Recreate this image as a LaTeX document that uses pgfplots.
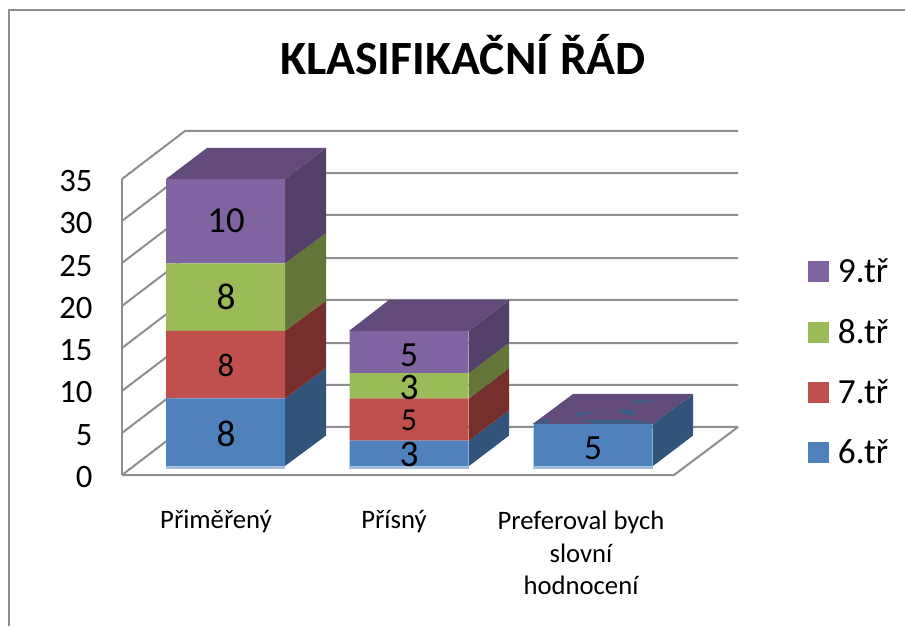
\documentclass[border=0pt]{standalone}
\usepackage{pgfplots}
\usepackage{pgfplotstable}
\pgfplotsset{compat=1.18}
\usepackage{fontspec}
\setmainfont{Carlito}
\definecolor{gridc}{HTML}{8E8E8E}
\definecolor{bluef}{HTML}{4F81BD}
\definecolor{redf}{HTML}{C0504D}
\definecolor{greenf}{HTML}{9BBB59}
\definecolor{purplef}{HTML}{8064A2}
\definecolor{blues}{HTML}{33547A}
\definecolor{reds}{HTML}{772F2E}
\definecolor{greens}{HTML}{637537}
\definecolor{purples}{HTML}{524068}
\definecolor{purplet}{HTML}{624B7A}
\definecolor{bluet}{HTML}{335E87}
\definecolor{strip}{HTML}{A9BEDC}
\pgfplotstableread{
x t6 t7 t8 t9
225.5 8 8 8 10
409 3 5 3 5
593 5 0 0 0
}\stackdata
\newcommand{\fs}[1]{\fontsize{#1}{#1}\selectfont}
\pgfplotsset{
  canvas/.style={at={(0,0)},anchor=south west,width=678.75pt,height=469.5pt,scale only axis,
    xmin=0,xmax=905,ymin=-18.96,ymax=55.21,hide axis,clip=false},
  gl/.style={draw=gridc,line width=1.5pt,line join=miter,forget plot},
  poly/.style={fill=#1,draw=none,forget plot},
}
\begin{document}
\begin{tikzpicture}
\useasboundingbox (0,0) rectangle (678.75pt,469.5pt);
% walls, gridlines, bar sides and tops
\begin{axis}[canvas]
\addplot[gl] coordinates {(9,-18.96) (9,54.03) (905,54.03)};
\addplot[gl] coordinates {(122,-1.07) (185,4.62) (738,4.62)};
\addplot[gl] coordinates {(122,3.91) (185,9.60) (738,9.60)};
\addplot[gl] coordinates {(122,8.89) (185,14.57) (738,14.57)};
\addplot[gl] coordinates {(122,13.98) (185,19.67) (738,19.67)};
\addplot[gl] coordinates {(122,18.96) (185,24.64) (738,24.64)};
\addplot[gl] coordinates {(122,24.05) (185,29.74) (738,29.74)};
\addplot[gl] coordinates {(122,29.03) (185,34.70) (738,34.70)};
\addplot[gl] coordinates {(122,34.00) (185,39.69) (738,39.69)};
\addplot[gl] coordinates {(122,-1.07) (674,-1.07) (738,4.62)};
% bar 1
\addplot[poly=strip] coordinates {(166,0) (285,0) (285,-0.3) (166,-0.3)} --cycle;
\addplot[poly=blues] coordinates {(285,0) (326,3.6) (326,11.6) (285,8)} --cycle;
\addplot[poly=reds] coordinates {(285,8) (326,11.6) (326,19.6) (285,16)} --cycle;
\addplot[poly=greens] coordinates {(285,16) (326,19.6) (326,27.6) (285,24)} --cycle;
\addplot[poly=purples] coordinates {(285,24) (326,27.6) (326,37.68) (285,34)} --cycle;
\addplot[poly=purplet] coordinates {(166,34) (285,34) (326,37.68) (207,37.68)} --cycle;
% bar 2
\addplot[poly=strip] coordinates {(349,0) (469,0) (469,-0.3) (349,-0.3)} --cycle;
\addplot[poly=blues] coordinates {(469,0) (509,3.6) (509,6.6) (469,3)} --cycle;
\addplot[poly=reds] coordinates {(469,3) (509,6.6) (509,11.6) (469,8)} --cycle;
\addplot[poly=greens] coordinates {(469,8) (509,11.6) (509,14.6) (469,11)} --cycle;
\addplot[poly=purples] coordinates {(469,11) (509,14.6) (509,19.67) (469,16)} --cycle;
\addplot[poly=purplet] coordinates {(349,16) (469,16) (509,19.67) (389,19.67)} --cycle;
% bar 3
\addplot[poly=strip] coordinates {(533,0) (653,0) (653,-0.3) (533,-0.3)} --cycle;
\addplot[poly=blues] coordinates {(653,0) (693,3.6) (693,8.53) (653,5)} --cycle;
\addplot[poly=purplet] coordinates {(533,5) (653,5) (693,8.53) (573,8.53)} --cycle;
\addplot[poly=bluet] coordinates {(576.7,6.24) (596.7,6.43) (577.3,5.92)} --cycle;
\addplot[poly=bluet] coordinates {(615,6.72) (633.3,6.64) (633.3,5.84)} --cycle;
\addplot[poly=bluet] coordinates {(633.3,7.74) (656.7,7.82) (635,7.43)} --cycle;
\addplot[poly=bluet] coordinates {(578,5.45) (632,5.45) (653,5.06) (597,5.06)} --cycle;
\addplot[poly=bluet] coordinates {(535,5.06) (541.7,5.45) (551.7,5.45) (546.7,5.06)} --cycle;
\end{axis}
% front faces, title and legend
\begin{axis}[canvas,
  ybar stacked,bar width=119,
  title={\fs{35.8}\bfseries KLASIFIKAČNÍ ŘÁD},
  title style={at={(rel axis cs:0.5116,0.9),},anchor=center,inner sep=0pt},
  legend style={at={(axis cs:808,24.9)},anchor=north west,draw=none,fill=none,inner sep=0pt,
    font=\fs{26.5},row sep=21.75pt,cells={anchor=west},
    /tikz/every odd column/.append style={column sep=4.5pt}},
  legend image code/.code={\fill[#1] (0pt,-7.875pt) rectangle (15.75pt,7.875pt);},
  reverse legend]
\addplot[fill=bluef,draw=none] table[x=x,y=t6] {\stackdata};
\addplot[fill=redf,draw=none] table[x=x,y=t7] {\stackdata};
\addplot[fill=greenf,draw=none] table[x=x,y=t8] {\stackdata};
\addplot[fill=purplef,draw=none] table[x=x,y=t9] {\stackdata};
\legend{6.tř,7.tř,8.tř,9.tř}
\end{axis}
% data labels
\begin{axis}[canvas]
\addplot[draw=none,forget plot] coordinates {(0,0) (905,1)};
\node[font=\fs{27.5}] at (axis cs:226,29) {10};
\node[font=\fs{28}] at (axis cs:226,20) {8};
\node[font=\fs{24.5}] at (axis cs:226,11.9) {8};
\node[font=\fs{28}] at (axis cs:226,3.8) {8};
\node[font=\fs{26.5}] at (axis cs:409,13.1) {5};
\node[font=\fs{28}] at (axis cs:409,9.3) {3};
\node[font=\fs{24}] at (axis cs:409,5.4) {5};
\node[font=\fs{28}] at (axis cs:409,1.3) {3};
\node[font=\fs{26.5}] at (axis cs:593,2.1) {5};
\end{axis}
% value axis and category labels
\begin{axis}[at={(91.5pt,113.25pt)},anchor=south west,width=414pt,height=222pt,scale only axis,
  xmin=122,xmax=674,ymin=0,ymax=35,
  axis x line*=bottom,axis y line*=left,
  axis line style={draw=gridc,line width=1.5pt,-},
  major tick length=0pt,
  ytick={0,5,...,35},
  xtick={216,394,581},
  xticklabels={Přiměřený,Přísný,{Preferoval bych\\slovní\\hodnocení}},
  /pgf/number format/assume math mode=true,
  yticklabel style={font=\fs{24.5},text=black,xshift=-22pt,yshift=-1.5pt,inner sep=0pt},
  xticklabel style={font=\fontsize{20}{24.7}\selectfont,align=center,text=black,inner sep=0pt,yshift=-26.5pt,anchor=north}
]
\addplot[draw=none,forget plot] coordinates {(122,0) (674,35)};
\end{axis}
\end{tikzpicture}
\end{document}
